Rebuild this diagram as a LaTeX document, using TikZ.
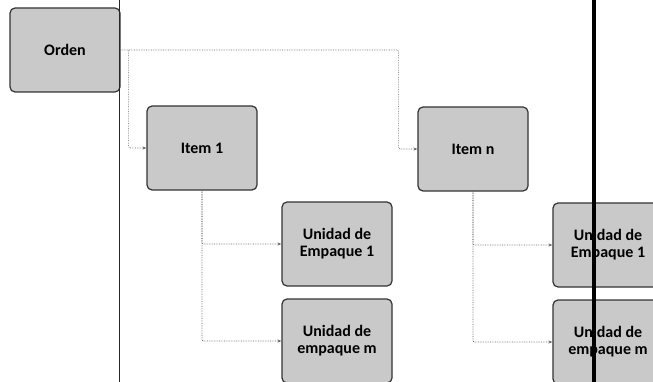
\documentclass[tikz,border=0pt]{standalone}
\usepackage{fontspec}
\setsansfont{Carlito}
\usetikzlibrary{arrows.meta, positioning, calc}
\colorlet{BoxFill}{gray!42}
\colorlet{BoxLine}{black!80}
\colorlet{ConnLine}{black!60}

\begin{document}
\begin{tikzpicture}[
    x=1pt, y=-1pt,
    caja/.style={
        rectangle, rounded corners=5pt, minimum width=110pt,
        minimum height=84pt, draw=BoxLine, line width=1.2pt,
        fill=BoxFill, align=center, text=black,
        font=\sffamily\bfseries\fontsize{16}{17}\selectfont
    },
    conn/.style={-{Stealth[length=4pt, width=3pt]}, densely dotted,
                 line width=0.7pt, ConnLine, rounded corners=2pt}
]
\useasboundingbox (0,0) rectangle (653,382);
\begin{scope}
\clip (0,0) rectangle (653,382);

% ===================================================================
% CAJAS
% ===================================================================
\node[caja] (orden) at (65,50) {Orden};

\node[caja] (item1) at (202,148) {Item 1};
\node[caja] (itemn) at (473,149) {Item n};

\node[caja] (ue11) at (337,244) {Unidad de\\Empaque 1};
\node[caja] (ue1m) at (337,341) {Unidad de\\empaque m};

\node[caja] (uen1) at (608,245) {Unidad de\\Empaque 1};
\node[caja] (uenm) at (608,342) {Unidad de\\empaque m};

% ===================================================================
% CONECTORES
% ===================================================================
\draw[conn] ([xshift=8pt]orden.east) |- (item1.west);
\draw[conn] (orden.east) -- ++(278,0) |- (itemn.west);

\foreach \a/\b in {item1/ue11, item1/ue1m, itemn/uen1, itemn/uenm} {
    \draw[conn] (\a.south) |- (\b.west);
}

% ===================================================================
% LINEAS DEL ESCANEO
% ===================================================================
\draw[line width=0.8pt, black!85] (119,0) -- (119,382);
\draw[line width=4.5pt, black] (594,0) -- (594,382);
\end{scope}

\end{tikzpicture}
\end{document}
